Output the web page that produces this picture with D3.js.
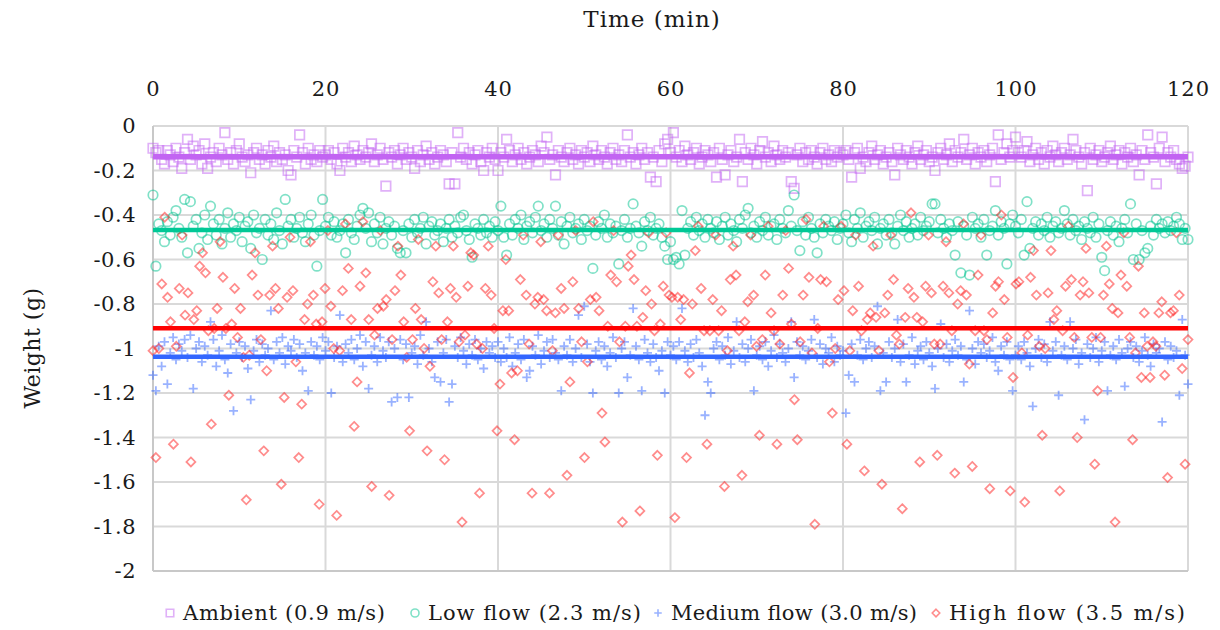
<!DOCTYPE html>
<html><head><meta charset="utf-8">
<script src="https://cdn.jsdelivr.net/npm/d3@7"></script>
<style>
body{margin:0;background:#fff;}
text{font-family:"DejaVu Serif",serif;fill:#1a1a1a;}
</style></head>
<body><svg id="c" width="1220" height="630"></svg>
<script>
// ---- data ----
const seriesNames = ["Ambient (0.9 m/s)","Low flow (2.3 m/s)","Medium flow (3.0 m/s)","High flow (3.5 m/s)"];
const xTicks = [0,20,40,60,80,100,120];
const yTicks = [0,-0.2,-0.4,-0.6,-0.8,-1,-1.2,-1.4,-1.6,-1.8,-2];
const meanValues = [-0.138,-0.467,-1.037,-0.909];

const ambient = [
-0.10,-0.12,-0.11,-0.15,-0.17,-0.11,-0.13,-0.16,-0.10,-0.14,-0.19,-0.12,-0.06,-0.15,-0.09,-0.13,-0.11,-0.17,-0.08,-0.19,
-0.14,-0.12,-0.16,-0.10,-0.13,-0.03,-0.15,-0.12,-0.17,-0.11,-0.08,-0.14,-0.16,-0.13,-0.21,-0.12,-0.10,-0.15,-0.13,-0.17,
-0.11,-0.14,-0.09,-0.16,-0.12,-0.15,-0.13,-0.20,-0.22,-0.11,-0.14,-0.04,-0.12,-0.17,-0.10,-0.15,-0.13,-0.16,-0.11,-0.14,
-0.13,-0.11,-0.15,-0.12,-0.17,-0.20,-0.10,-0.14,-0.12,-0.16,-0.09,-0.13,-0.15,-0.11,-0.14,-0.12,-0.08,-0.16,-0.13,-0.10,
-0.15,-0.27,-0.12,-0.14,-0.11,-0.17,-0.13,-0.10,-0.15,-0.12,-0.14,-0.19,-0.11,-0.16,-0.13,-0.09,-0.15,-0.12,-0.17,-0.14,
-0.11,-0.13,-0.16,-0.26,-0.12,-0.26,-0.03,-0.14,-0.10,-0.15,-0.12,-0.17,-0.13,-0.11,-0.16,-0.20,-0.12,-0.14,-0.10,-0.15,
-0.20,-0.12,-0.14,-0.06,-0.11,-0.16,-0.13,-0.10,-0.15,-0.12,-0.17,-0.14,-0.11,-0.13,-0.16,-0.09,-0.12,-0.05,-0.15,-0.13,
-0.22,-0.11,-0.14,-0.16,-0.12,-0.10,-0.15,-0.13,-0.17,-0.11,-0.14,-0.12,-0.16,-0.09,-0.13,-0.15,-0.11,-0.14,-0.17,-0.12,
-0.10,-0.15,-0.13,-0.16,-0.11,-0.04,-0.14,-0.12,-0.17,-0.13,-0.10,-0.15,-0.12,-0.23,-0.14,-0.25,-0.11,-0.16,-0.08,-0.06,
-0.12,-0.03,-0.14,-0.11,-0.16,-0.09,-0.13,-0.15,-0.12,-0.10,-0.17,-0.14,-0.11,-0.13,-0.16,-0.12,-0.23,-0.10,-0.15,-0.22,
-0.13,-0.11,-0.16,-0.14,-0.06,-0.25,-0.12,-0.15,-0.10,-0.13,-0.17,-0.11,-0.07,-0.14,-0.12,-0.16,-0.09,-0.13,-0.15,-0.11,
-0.14,-0.12,-0.25,-0.28,-0.13,-0.10,-0.16,-0.12,-0.15,-0.11,-0.14,-0.17,-0.12,-0.10,-0.15,-0.13,-0.16,-0.11,-0.14,-0.12,
-0.13,-0.11,-0.15,-0.23,-0.12,-0.10,-0.19,-0.14,-0.16,-0.12,-0.09,-0.15,-0.13,-0.11,-0.17,-0.14,-0.12,-0.16,-0.22,-0.10,
-0.13,-0.15,-0.11,-0.14,-0.17,-0.12,-0.09,-0.15,-0.13,-0.11,-0.16,-0.14,-0.20,-0.12,-0.10,-0.15,-0.13,-0.08,-0.16,-0.11,
-0.14,-0.12,-0.06,-0.15,-0.13,-0.10,-0.17,-0.12,-0.14,-0.11,-0.16,-0.13,-0.10,-0.25,-0.04,-0.15,-0.12,-0.08,-0.14,-0.11,
-0.05,-0.12,-0.14,-0.11,-0.07,-0.16,-0.13,-0.10,-0.15,-0.12,-0.17,-0.11,-0.14,-0.09,-0.13,-0.16,-0.12,-0.10,-0.15,-0.13,
-0.06,-0.11,-0.14,-0.17,-0.12,-0.29,-0.10,-0.15,-0.13,-0.11,-0.16,-0.14,-0.12,-0.09,-0.15,-0.13,-0.11,-0.17,-0.12,-0.14,
-0.10,-0.16,-0.13,-0.22,-0.11,-0.15,-0.04,-0.12,-0.14,-0.26,-0.10,-0.05,-0.16,-0.12,-0.14,-0.11,-0.15,-0.17,-0.19,-0.18,
-0.14];

const lowFlow = [
-0.31,-0.63,-0.44,-0.47,-0.52,-0.43,-0.49,-0.41,-0.38,-0.46,-0.50,-0.33,-0.57,-0.34,-0.45,-0.42,-0.55,-0.48,-0.40,-0.51,
-0.36,-0.44,-0.49,-0.42,-0.53,-0.46,-0.39,-0.50,-0.44,-0.47,-0.41,-0.52,-0.45,-0.43,-0.55,-0.40,-0.48,-0.46,-0.60,-0.42,
-0.49,-0.44,-0.51,-0.39,-0.47,-0.53,-0.33,-0.45,-0.42,-0.50,-0.46,-0.41,-0.48,-0.52,-0.44,-0.40,-0.49,-0.63,-0.47,-0.33,
-0.45,-0.41,-0.49,-0.43,-0.50,-0.47,-0.44,-0.57,-0.42,-0.48,-0.51,-0.45,-0.40,-0.37,-0.46,-0.39,-0.52,-0.44,-0.48,-0.41,
-0.53,-0.46,-0.43,-0.49,-0.45,-0.55,-0.57,-0.47,-0.57,-0.44,-0.50,-0.42,-0.48,-0.46,-0.41,-0.53,-0.45,-0.43,-0.49,-0.47,
-0.44,-0.52,-0.46,-0.42,-0.50,-0.45,-0.48,-0.41,-0.40,-0.47,-0.51,-0.59,-0.44,-0.46,-0.49,-0.42,-0.48,-0.45,-0.50,-0.43,
-0.47,-0.36,-0.50,-0.58,-0.44,-0.49,-0.42,-0.46,-0.40,-0.51,-0.45,-0.43,-0.48,-0.41,-0.36,-0.47,-0.44,-0.50,-0.42,-0.46,
-0.36,-0.49,-0.43,-0.53,-0.45,-0.41,-0.48,-0.46,-0.44,-0.51,-0.42,-0.47,-0.45,-0.64,-0.49,-0.43,-0.46,-0.40,-0.50,-0.44,
-0.48,-0.45,-0.62,-0.47,-0.42,-0.50,-0.46,-0.35,-0.45,-0.48,-0.54,-0.43,-0.47,-0.41,-0.49,-0.46,-0.44,-0.50,-0.54,-0.60,
-0.52,-0.60,-0.59,-0.62,-0.38,-0.58,-0.46,-0.43,-0.49,-0.41,-0.47,-0.44,-0.50,-0.42,-0.46,-0.48,-0.43,-0.51,-0.45,-0.41,
-0.49,-0.44,-0.47,-0.52,-0.42,-0.46,-0.40,-0.37,-0.48,-0.45,-0.50,-0.43,-0.47,-0.41,-0.49,-0.45,-0.44,-0.51,-0.42,-0.46,
-0.48,-0.38,-0.45,-0.31,-0.47,-0.56,-0.43,-0.49,-0.41,-0.46,-0.50,-0.57,-0.44,-0.48,-0.42,-0.45,-0.47,-0.43,-0.51,-0.46,
-0.44,-0.40,-0.48,-0.52,-0.42,-0.46,-0.39,-0.50,-0.45,-0.43,-0.47,-0.41,-0.53,-0.46,-0.44,-0.49,-0.42,-0.48,-0.53,-0.45,
-0.40,-0.47,-0.43,-0.50,-0.46,-0.44,-0.49,-0.41,-0.47,-0.45,-0.43,-0.35,-0.35,-0.48,-0.42,-0.46,-0.50,-0.44,-0.47,-0.58,
-0.43,-0.66,-0.45,-0.49,-0.67,-0.41,-0.46,-0.44,-0.50,-0.42,-0.58,-0.47,-0.45,-0.38,-0.49,-0.43,-0.46,-0.62,-0.44,-0.40,
-0.45,-0.48,-0.42,-0.58,-0.34,-0.55,-0.46,-0.43,-0.49,-0.44,-0.47,-0.41,-0.50,-0.45,-0.43,-0.48,-0.46,-0.38,-0.44,-0.49,
-0.42,-0.47,-0.45,-0.51,-0.43,-0.46,-0.48,-0.41,-0.50,-0.44,-0.59,-0.65,-0.47,-0.43,-0.49,-0.45,-0.52,-0.46,-0.42,-0.48,
-0.35,-0.60,-0.44,-0.60,-0.47,-0.57,-0.55,-0.45,-0.49,-0.42,-0.46,-0.44,-0.48,-0.43,-0.47,-0.45,-0.41,-0.44,-0.51,-0.46,
-0.51];

const mediumFlow = [
-1.12,-1.19,-0.99,-1.08,-0.97,-1.16,-1.02,-0.95,-1.05,-0.98,-1.01,-0.96,-1.04,-0.94,-1.18,-1.00,-0.97,-1.06,-0.99,-1.03,
-0.88,-0.96,-1.08,-1.01,-0.94,-1.05,-1.11,-0.98,-1.28,-1.02,-0.97,-1.04,-0.99,-1.09,-1.23,-1.01,-0.96,-1.06,-0.98,-1.03,
-1.00,-0.83,-1.05,-0.97,-1.02,-0.95,-1.07,-0.99,-1.01,-0.96,-1.04,-0.98,-1.10,-1.02,-1.19,-0.97,-1.03,-0.99,-1.05,-0.95,
-1.01,-0.97,-1.20,-1.04,-0.99,-0.85,-1.06,-0.98,-1.02,-0.96,-1.05,-1.00,-0.94,-1.08,-0.97,-1.18,-1.03,-0.99,-1.06,-0.95,
-1.01,-1.04,-0.97,-1.24,-1.00,-1.22,-0.96,-1.05,-0.98,-1.22,-1.02,-0.99,-1.07,-0.94,-1.03,-0.88,-1.00,-1.06,-1.13,-0.97,
-1.15,-1.02,-0.96,-1.24,-1.16,-0.99,-1.04,-0.95,-1.01,-1.07,-0.98,-1.03,-0.96,-1.05,-1.00,-1.09,-0.97,-1.02,-0.99,-1.04,
-0.97,-1.06,-1.00,-1.04,-0.95,-1.08,-1.02,-0.98,-1.05,-0.96,-1.13,-1.10,-0.99,-1.03,-0.94,-1.07,-1.01,-0.97,-1.04,-0.96,
-1.02,-1.05,-1.19,-0.99,-1.03,-0.96,-1.06,-1.00,-0.85,-1.04,-0.81,-0.98,-1.06,-1.20,-1.01,-0.97,-1.05,-0.99,-1.08,-1.02,
-0.95,-1.04,-1.20,-1.00,-0.97,-1.13,-1.03,-0.82,-0.99,-1.05,-1.19,-0.96,-1.02,-1.06,-0.98,-1.04,-1.10,-1.01,-1.20,-0.97,
-1.03,-0.99,-1.05,-0.97,-0.82,-1.01,-1.06,-0.98,-1.04,-0.96,-1.02,-1.08,-1.30,-1.15,-1.20,-1.00,-0.97,-1.05,-0.99,-1.03,
-0.95,-1.07,-1.01,-0.88,-1.04,-0.98,-1.06,-1.00,-0.96,-1.19,-1.03,-0.99,-1.05,-0.97,-1.08,-1.01,-0.94,-1.04,-0.98,-1.02,
-1.06,-1.00,-0.88,-1.13,-0.97,-1.03,-0.99,-1.05,-1.01,-0.96,-0.87,-1.04,-0.98,-1.07,-1.00,-1.02,-0.95,-1.06,-0.99,-1.03,
-1.01,-1.29,-1.12,-0.98,-1.15,-1.03,-0.96,-1.05,-1.00,-0.97,-1.04,-0.99,-0.81,-1.19,-1.02,-1.15,-0.97,-1.04,-1.00,-0.87,
-1.06,-0.98,-1.15,-1.03,-0.95,-1.07,-1.01,-0.99,-1.05,-0.97,-1.02,-1.08,-1.18,-1.00,-0.89,-1.04,-0.98,-1.06,-1.01,-0.96,
-1.03,-0.99,-1.15,-1.05,-0.83,-1.00,-1.07,-0.97,-1.02,-0.98,-1.04,-1.01,-0.95,-1.06,-1.10,-0.99,-1.03,-0.97,-1.05,-1.19,
-1.03,-0.99,-1.05,-0.97,-1.02,-1.08,-1.26,-1.00,-0.96,-1.04,-0.98,-1.06,-0.88,-1.01,-0.97,-1.21,-1.03,-0.99,-1.05,-0.88,
-1.00,-0.96,-1.07,-1.02,-1.32,-0.98,-1.04,-1.00,-0.95,-1.06,-1.01,-0.97,-1.19,-1.03,-0.99,-1.05,-0.96,-1.02,-1.17,-1.00,
-0.97,-1.04,-0.99,-1.06,-1.01,-0.95,-1.03,-1.08,-0.98,-1.02,-1.00,-1.33,-0.97,-1.05,-0.99,-1.04,-1.01,-1.21,-0.87,-1.03,
-1.16];

const highFlow = [
-1.01,-1.49,-1.00,-0.71,-0.41,-0.77,-0.88,-1.43,-0.99,-0.73,-0.49,-0.85,-0.75,-1.51,-0.87,-0.83,-0.63,-0.57,-0.66,-0.92,
-1.34,-0.91,-0.82,-0.52,-0.68,-0.91,-1.21,-0.89,-0.73,-0.95,-0.82,-1.04,-1.68,-1.03,-0.67,-0.57,-0.76,-0.96,-1.46,-1.10,
-0.76,-0.54,-0.73,-0.82,-1.61,-1.22,-0.77,-0.50,-0.74,-1.06,-1.49,-1.25,-0.87,-0.80,-0.52,-0.76,-0.89,-1.70,-0.88,-0.73,
-0.47,
-0.81,-1.00,-1.75,-1.01,-0.74,-0.44,-0.64,-0.87,-1.35,-1.15,-0.72,-0.43,-0.66,-0.87,-1.62,-0.94,-0.82,-0.47,-0.81,-0.78,
-1.66,-0.96,-0.74,-0.54,-0.67,-0.88,-1.04,-1.37,-0.96,-0.82,-0.51,-0.87,-1.00,-1.46,-1.08,-0.70,-0.54,-0.75,-0.96,-1.50,
-0.88,-0.73,-0.54,-0.77,-0.97,-1.78,-0.94,-0.72,-0.57,-0.58,-0.98,-1.65,-1.00,-0.73,-0.54,-0.76,-0.91,-1.37,-1.16,-0.83,
-0.60,
-0.83,-1.11,-1.41,-1.10,-0.69,-0.49,-0.76,-0.98,-1.65,-0.80,-0.77,-0.52,-0.78,-0.83,-1.65,-1.01,-0.84,-0.49,-0.73,-0.82,
-1.57,-1.15,-0.70,-0.47,-0.82,-0.97,-1.49,-1.06,-0.78,-0.43,-0.77,-0.83,-1.29,-1.42,-0.90,-0.67,-0.47,-0.70,-0.97,-1.78,
-0.90,-0.63,-0.58,-0.69,-0.90,-1.73,-0.86,-0.74,-0.48,-0.80,-0.92,-1.48,-0.89,-0.72,-0.48,-0.76,-0.77,-1.76,
-0.77,-0.87,-0.78,-1.49,-1.11,-0.80,-0.56,-0.45,-0.73,-0.92,-1.43,-0.92,-0.78,-0.49,-0.92,-0.83,-1.62,-1.01,-0.69,-0.54,
-0.67,-0.92,-1.57,-0.88,-0.79,-0.49,-0.76,-0.99,-1.39,-0.96,-0.67,-0.45,-0.84,-0.92,-1.43,-0.98,-0.76,-0.47,-0.64,-0.89,
-1.23,-1.41,-0.97,-0.76,-0.42,-0.68,-1.02,-1.79,-0.91,-0.69,-0.45,-0.70,-1.06,-1.29,-1.00,-0.78,-0.45,-0.74,-1.43,
-1.01,-0.83,-0.49,-0.72,-0.92,-1.55,-0.87,-0.84,-0.54,-0.86,-1.01,-1.61,-0.84,-0.76,-0.49,-0.69,-0.94,-0.98,-1.72,-0.86,
-0.73,-0.39,-0.77,-0.86,-1.51,-0.88,-0.72,-0.49,-0.75,-0.98,-1.48,-0.98,-0.72,-0.52,-0.75,-0.92,-1.56,-0.80,-0.74,-0.44,
-0.76,-1.07,-1.53,-0.92,-0.67,-0.49,-0.92,-0.96,-1.63,-0.84,-0.72,-0.70,-0.40,-0.78,-0.95,-1.64,-1.13,-0.71,
-0.70,-1.02,-1.69,-0.94,-0.68,-0.56,-0.76,-0.99,-1.39,-1.00,-0.75,-0.56,-0.87,-0.83,-1.64,-0.92,-0.72,-0.45,-0.69,-0.95,
-1.40,-0.76,-0.70,-0.55,-0.75,-0.95,-1.52,-1.19,-0.95,-0.76,-0.54,-0.71,-0.82,-1.78,-0.84,-0.67,-0.48,-0.72,-0.95,-1.41,
-1.02,-0.63,-1.13,-0.84,-0.99,-1.13,-0.97,-0.99,-0.84,-0.79,-1.12,-1.58,-0.84,-0.83,-0.48,-0.76,-1.09,-1.52,-0.96];

const seriesValues = [ambient, lowFlow, mediumFlow, highFlow];
const lineColors = ["#c264f2","#00c896","#3366ff","#ff0000"];
const markerColors = ["#c264f2","#00c48f","#3366ff","#ff1a1a"];

// ---- chart ----
const svg = d3.select("#c");
const x = d3.scaleLinear().domain([0,120]).range([153,1188]);
const y = d3.scaleLinear().domain([0,-2]).range([126,571]);

// grid
svg.append("g").selectAll("line").data(yTicks).join("line")
  .attr("x1",x(0)).attr("x2",x(120)).attr("y1",d=>y(d)).attr("y2",d=>y(d))
  .attr("stroke","#d9d9d9").attr("stroke-width",2);
svg.append("g").selectAll("line").data(xTicks).join("line")
  .attr("y1",y(0)).attr("y2",y(-2)).attr("x1",d=>x(d)).attr("x2",d=>x(d))
  .attr("stroke","#d9d9d9").attr("stroke-width",2);
svg.append("line").attr("x1",x(0)).attr("x2",x(0)).attr("y1",y(0)).attr("y2",y(-2)).attr("stroke","#c8c8c8").attr("stroke-width",2);
svg.append("line").attr("x1",x(0)).attr("x2",x(120)).attr("y1",y(-2)).attr("y2",y(-2)).attr("stroke","#c8c8c8").attr("stroke-width",2);

// axes
const xa = svg.append("g").attr("transform",`translate(0,${y(0)-30})`)
  .call(d3.axisTop(x).tickValues(xTicks).tickSize(0).tickPadding(0).tickFormat(d3.format("d")));
xa.select(".domain").remove();
xa.selectAll("text").attr("font-size",21).attr("letter-spacing",1).attr("font-family","DejaVu Serif").attr("fill","#1a1a1a");
const ya = svg.append("g").attr("transform",`translate(${x(0)-17},0)`)
  .call(d3.axisLeft(y).tickValues(yTicks).tickSize(0).tickPadding(0).tickFormat(d=>d===0?"0":String(d).replace("−","-")));
ya.select(".domain").remove();
ya.selectAll("text").attr("font-size",21).attr("letter-spacing",0.5).attr("font-family","DejaVu Serif").attr("fill","#1a1a1a");

svg.append("text").attr("x",652).attr("y",27).attr("text-anchor","middle").attr("font-size",23).attr("letter-spacing",1).text("Time (min)");
svg.append("text").attr("transform","translate(40,348) rotate(-90)").attr("text-anchor","middle").attr("font-size",22).attr("letter-spacing",0.5).text("Weight (g)");

// marker shapes
function shapePath(k,s){
  const h=s/2;
  if(k===0) return `M${-h},${-h}H${h}V${h}H${-h}Z`;
  if(k===1) return `M${h},0A${h},${h} 0 1,1 ${-h},0A${h},${h} 0 1,1 ${h},0Z`;
  if(k===2) return `M${-h},0H${h}M0,${-h}V${h}`;
  return `M0,${-h}L${h},0L0,${h}L${-h},0Z`;
}
const sizes=[9.5,9.5,9,9];
seriesValues.forEach((vals,k)=>{
  const n=vals.length;
  const t = d3.range(n).map(i=>i*120/(n-1));
  svg.append("g").selectAll("path").data(vals).join("path")
    .attr("transform",(d,i)=>`translate(${x(t[i])},${y(d)})`)
    .attr("d",shapePath(k,sizes[k]))
    .attr("fill","none").attr("stroke",markerColors[k]).attr("stroke-opacity",0.5)
    .attr("stroke-width",k===2?1.8:1.7);
});
// mean lines
[0,1,3,2].forEach(k=>{
  svg.append("line").attr("x1",x(0)).attr("x2",x(120)).attr("y1",y(meanValues[k])).attr("y2",y(meanValues[k]))
    .attr("stroke",lineColors[k]).attr("stroke-width",k===0?5.5:4.5);
});

// legend
const legX=[170,415,658,936];
const legW=[202,213,246,236];
const lg = svg.append("g");
seriesNames.forEach((name,k)=>{
  lg.append("path").attr("transform",`translate(${legX[k]},613)`).attr("d",shapePath(k,k===1?8:7.5))
    .attr("fill","none").attr("stroke",markerColors[k]).attr("stroke-opacity",0.5).attr("stroke-width",1.6);
  lg.append("text").attr("x",legX[k]+13).attr("y",620).attr("font-size",21)
    .attr("textLength",legW[k]).attr("lengthAdjust","spacing").text(name);
});
</script></body></html>
